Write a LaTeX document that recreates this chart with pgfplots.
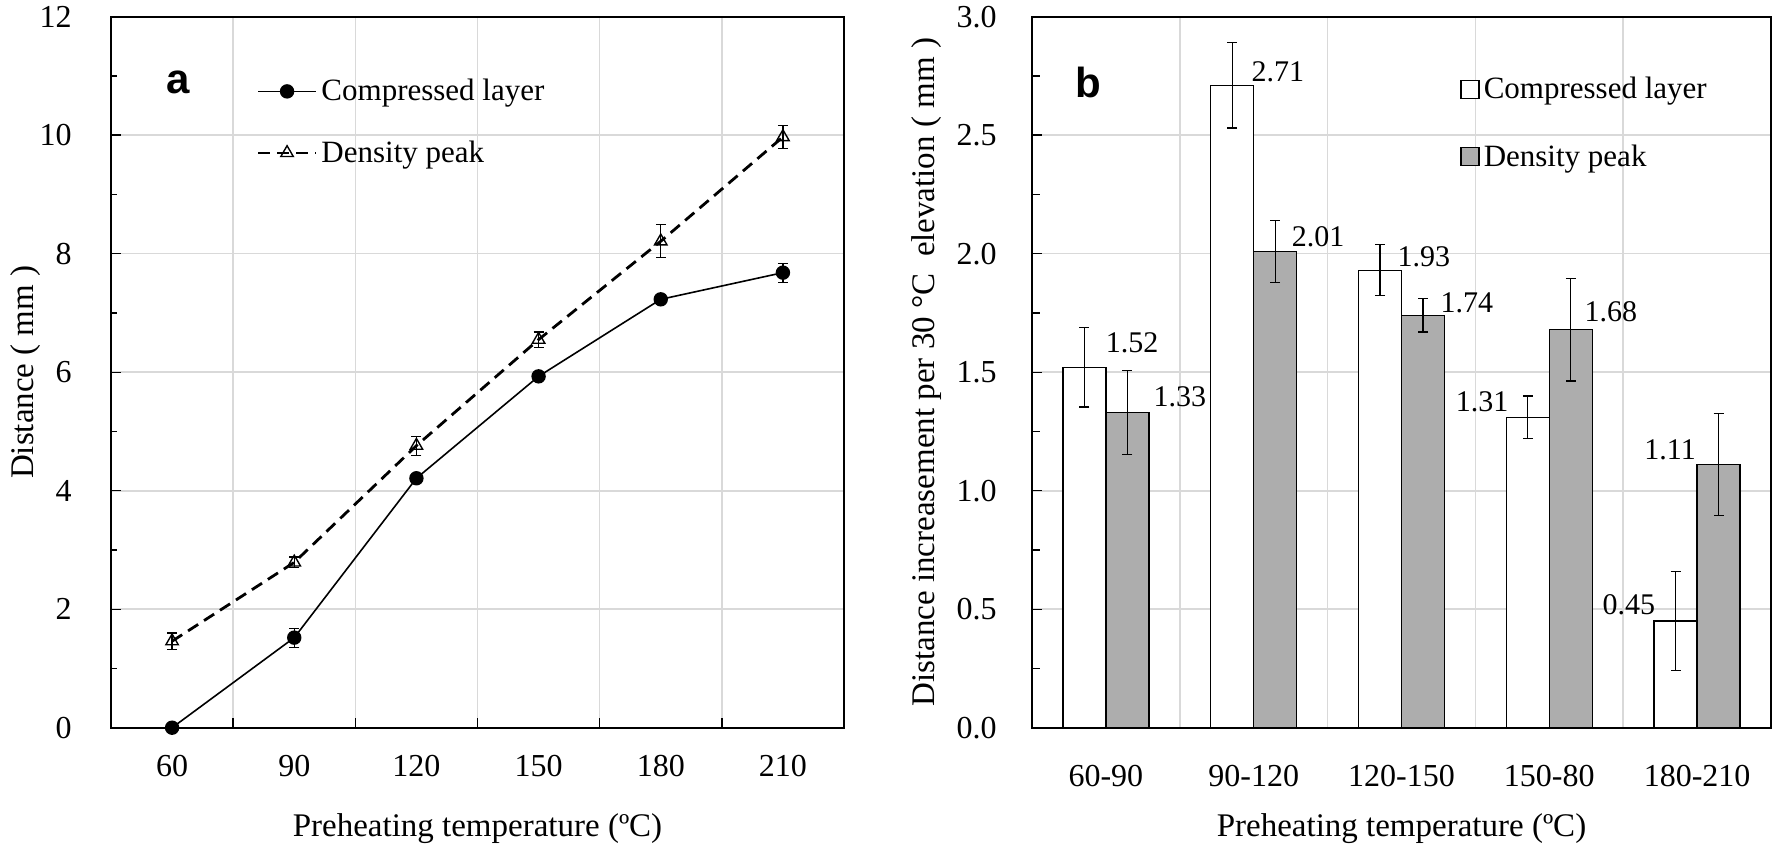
\documentclass[border=0pt]{standalone}
\usepackage{fontspec}
\setmainfont{Liberation Serif}
\newfontfamily\sansfont{Liberation Sans}
\usepackage{pgfplots}
\pgfplotsset{compat=1.18}
\definecolor{gridgray}{HTML}{D9D9D9}
\definecolor{bargray}{HTML}{ADADAD}

\pgfplotstableread{
x   y     e
60  0.00  0.00
90  1.52  0.16
120 4.21  0.04
150 5.93  0.04
180 7.23  0.04
210 7.68  0.16
}\comptab
\pgfplotstableread{
x   y     e
60  1.46  0.14
90  2.79  0.09
120 4.76  0.16
150 6.55  0.13
180 8.21  0.28
210 9.97  0.20
}\denstab
\pgfplotstableread{
x y e
0 1.52 0.167
1 2.71 0.180
2 1.93 0.108
3 1.31 0.090
4 0.45 0.210
}\compbar
\pgfplotstableread{
x y e
0 1.33 0.177
1 2.01 0.130
2 1.74 0.070
3 1.68 0.217
4 1.11 0.215
}\densbar

\pgfplotsset{
  common/.style={
    scale only axis, anchor=south west,
    height=355.5pt,
    axis line style={line width=0.85pt},
    tick align=inside, tick pos=left,
    tick style={black, line width=0.7pt},
    major grid style={gridgray, line width=0.8pt},
    minor grid style={gridgray, line width=0.8pt},
    /pgf/number format/assume math mode=true,
    xticklabel style={font=\fontsize{16}{19}\selectfont, anchor=base, yshift=-24.5pt},
    xlabel style={font=\fontsize{16.5}{20}\selectfont, anchor=base},
    ylabel style={font=\fontsize{16.5}{20}\selectfont, anchor=base},
    legend style={draw=none, fill=none, anchor=north west,
      font=\fontsize{15.5}{18}\selectfont, cells={anchor=west},
      /tikz/every even column/.append style={column sep=0pt}},
  },
}

\begin{document}
\begin{tikzpicture}
\useasboundingbox (0,0) rectangle (886pt,423.5pt);

% ---------------- panel a ----------------
\begin{axis}[common,
  at={(55.5pt,59.65pt)}, width=366.5pt,
  xmin=45, xmax=225, ymin=0, ymax=12,
  xtick={75,105,135,165,195}, xticklabels={},
  xmajorgrids,
  extra x ticks={60,90,120,150,180,210},
  extra x tick style={grid=none, major tick length=0pt},
  ytick={0,2,...,12}, minor ytick={1,3,...,11}, ymajorgrids,
  major tick length=5pt, minor tick length=3pt,
  yticklabel style={font=\fontsize{16}{19}\selectfont, anchor=east, inner sep=0pt, xshift=-19.5pt},
  xlabel={Preheating temperature (ºC)},
  xlabel style={at={(axis description cs:0.5,-0.1537)}},
  ylabel={Distance ( mm )},
  ylabel style={at={(axis description cs:-0.1064,0.5)}},
  legend style={at={(axis description cs:0.19,0.924)}, row sep=14.5pt},
  legend image code/.code={\draw[mark repeat=2,mark phase=2,#1] plot coordinates {(0pt,0pt) (14.5pt,0pt) (29pt,0pt)};},
]
\addplot[black, line width=0.8pt, mark=*, mark size=3.2pt,
  error bars/.cd, y dir=both, y explicit,
  error bar style={line width=0.6pt, solid},
  error mark options={rotate=90, mark size=2.5pt, line width=0.6pt}]
  table[x=x, y=y, y error=e] {\comptab};
\addlegendentry{Compressed layer}
\addplot[black, line width=1.4pt, dash pattern=on 6pt off 3.5pt,
  mark=triangle, mark size=3.6pt, mark options={solid, line width=0.7pt},
  error bars/.cd, y dir=both, y explicit,
  error bar style={line width=0.6pt, solid},
  error mark options={rotate=90, mark size=2.5pt, line width=0.6pt, solid}]
  table[x=x, y=y, y error=e] {\denstab};
\addlegendentry{Density peak}
\node[font=\sansfont\bfseries\fontsize{21}{24}\selectfont] at (axis description cs:0.0914,0.908) {a};
\end{axis}

% ---------------- panel b ----------------
\begin{axis}[common,
  at={(516pt,59.65pt)}, width=369.5pt,
  xmin=-0.5, xmax=4.5, ymin=0, ymax=3,
  xtick={0,1,2,3,4}, xticklabels={60-90,90-120,120-150,150-80,180-210},
  major x tick style={draw=none},
  minor xtick={0.5,1.5,2.5,3.5}, xminorgrids,
  minor x tick style={draw=none},
  ytick={0,0.5,...,3}, minor ytick={0.25,0.75,...,2.75}, ymajorgrids,
  major tick length=5pt, minor tick length=4pt,
  yticklabel style={font=\fontsize{16}{19}\selectfont, anchor=east, inner sep=0pt, xshift=-17.5pt,
    /pgf/number format/.cd, fixed, fixed zerofill, precision=1},
  xlabel={Preheating temperature (ºC)},
  xlabel style={at={(axis description cs:0.5,-0.1537)}},
  ylabel={Distance increasement per 30 °C\ \ elevation ( mm )},
  ylabel style={at={(axis description cs:-0.1313,0.5)}},
  ybar, bar width=21.5pt,
  legend style={at={(axis description cs:0.571,0.927)}, row sep=17.5pt},
  legend image code/.code={\draw[#1, line width=0.7pt] (0pt,-4.5pt) rectangle (9pt,4.5pt);},
]
\addplot[draw=black, fill=white, line width=0.7pt, bar shift=-10.75pt,
  error bars/.cd, y dir=both, y explicit,
  error bar style={line width=0.6pt},
  error mark options={rotate=90, mark size=2.5pt, line width=0.6pt}]
  table[x=x, y=y, y error=e] {\compbar};
\addlegendentry{Compressed layer}
\addplot[draw=black, fill=bargray, line width=0.7pt, bar shift=10.75pt,
  error bars/.cd, y dir=both, y explicit,
  error bar style={line width=0.6pt},
  error mark options={rotate=90, mark size=2.5pt, line width=0.6pt}]
  table[x=x, y=y, y error=e] {\densbar};
\addlegendentry{Density peak}
\begin{scope}[every node/.style={font=\fontsize{15}{18}\selectfont}]
\node at (axis cs:0.177,1.623) {1.52};
\node at (axis cs:0.501,1.395) {1.33};
\node at (axis cs:1.164,2.767) {2.71};
\node at (axis cs:1.435,2.070) {2.01};
\node at (axis cs:2.152,1.986) {1.93};
\node at (axis cs:2.443,1.792) {1.74};
\node at (axis cs:2.545,1.374) {1.31};
\node at (axis cs:3.417,1.754) {1.68};
\node at (axis cs:3.817,1.172) {1.11};
\node at (axis cs:3.539,0.518) {0.45};
\end{scope}
\node[font=\sansfont\bfseries\fontsize{21}{24}\selectfont] at (axis description cs:0.0758,0.9068) {b};
\end{axis}
\end{tikzpicture}
\end{document}
